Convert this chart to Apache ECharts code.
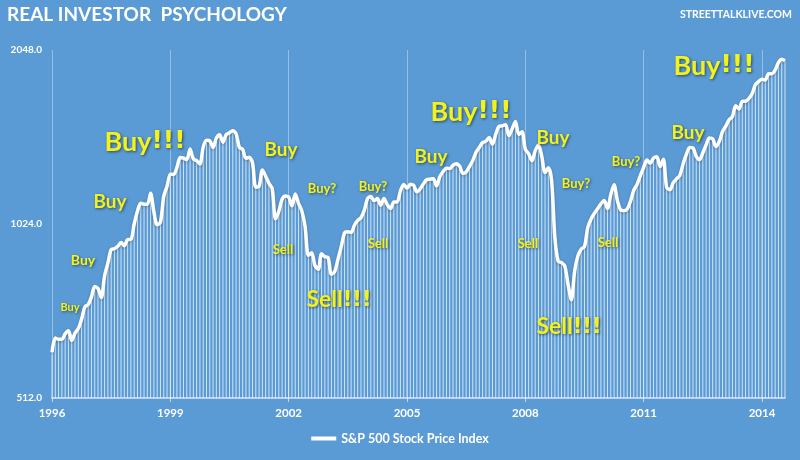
<!DOCTYPE html>
<html>
<head>
<meta charset="utf-8">
<script src="https://cdn.jsdelivr.net/npm/echarts@6/dist/echarts.min.js"></script>
<style>
html,body{margin:0;padding:0;background:#5b9bd5;}
#c{width:800px;height:460px;}
</style>
</head>
<body>
<div id="c"></div>
<script>
// Monthly S&P 500 (average price), Jan 1996 – Aug 2014
var months = [];
for (var y = 1996; y <= 2014; y++) {
  for (var m = 1; m <= 12; m++) {
    if (y === 2014 && m > 8) break;
    months.push(y + '-' + (m < 10 ? '0' + m : m));
  }
}
var sp1996 = [614,650,647,647,661,669,644,663,675,701,736,743];
var sp1997 = [766,798,792,764,833,876,925,928,937,951,939,962];
var sp1998 = [963,1024,1077,1112,1108,1108,1157,1075,1021,1032,1144,1190];
var sp1999 = [1249,1247,1282,1335,1332,1323,1381,1327,1318,1300,1391,1429];
var sp2000 = [1426,1389,1442,1461,1418,1462,1473,1485,1468,1390,1378,1331];
var sp2001 = [1336,1306,1186,1190,1270,1239,1204,1179,1045,1077,1130,1145];
var sp2002 = [1140,1101,1154,1112,1079,1014,904,913,868,855,910,899];
var sp2003 = [896,838,847,890,936,988,993,990,1019,1039,1050,1081];
var sp2004 = [1133,1143,1124,1133,1103,1133,1106,1089,1118,1118,1169,1199];
var sp2005 = [1181,1200,1195,1164,1178,1202,1222,1224,1226,1192,1237,1262];
var sp2006 = [1279,1277,1294,1302,1290,1253,1260,1287,1318,1363,1389,1416];
var sp2007 = [1424,1445,1407,1464,1511,1514,1521,1455,1497,1540,1463,1479];
var sp2008 = [1379,1355,1317,1370,1403,1341,1257,1281,1217,969,883,878];
var sp2009 = [866,805,757,848,902,926,936,1010,1045,1068,1088,1110];
var sp2010 = [1124,1089,1152,1197,1125,1083,1080,1087,1122,1172,1199,1242];
var sp2011 = [1283,1321,1304,1332,1338,1287,1325,1185,1174,1207,1226,1243];
var sp2012 = [1301,1352,1389,1386,1341,1323,1360,1403,1443,1438,1395,1422];
var sp2013 = [1480,1512,1551,1571,1640,1619,1669,1670,1687,1720,1784,1808];
var sp2014 = [1822,1817,1864,1864,1890,1947,1973,1962];
var spx = [].concat(sp1996,sp1997,sp1998,sp1999,sp2000,sp2001,sp2002,sp2003,sp2004,
  sp2005,sp2006,sp2007,sp2008,sp2009,sp2010,sp2011,sp2012,sp2013,sp2014);

var yTicks = [512, 1024, 2048];
var seriesName = 'S&P 500 Stock Price Index';

// annotation texts: [word, marks, size, x, y]
var notes = [
  ['Buy', '', 11, 70, 307],
  ['Buy', '', 14, 83, 260],
  ['Buy', '', 19, 110, 202],
  ['Buy', '!!!', 27, 145, 142],
  ['Buy', '', 19, 281, 150],
  ['Buy', '?', 13, 322, 189],
  ['Buy', '?', 13, 373, 187],
  ['Sell', '', 13, 283, 250],
  ['Sell', '!!!', 23, 339, 300],
  ['Sell', '', 13, 378, 244],
  ['Buy', '', 19, 431, 157],
  ['Buy', '!!!', 27, 471, 112],
  ['Buy', '', 19, 553, 138],
  ['Buy', '?', 13, 576, 184],
  ['Sell', '', 13, 528, 244],
  ['Sell', '!!!', 23, 569, 327],
  ['Sell', '', 13, 608, 243],
  ['Buy', '?', 13, 626, 162],
  ['Buy', '', 19, 688, 133],
  ['Buy', '!!!', 27, 714, 66]
];

var FONT = 'Lato, "Open Sans", sans-serif';
var YEL = '#f2f21c';
var graphics = [
  {type:'text', left:7, top:5, style:{text:'REAL INVESTOR  PSYCHOLOGY', fill:'#fff',
    font:'bold 19px ' + FONT, shadowColor:'rgba(0,0,0,0.6)', shadowBlur:3, shadowOffsetX:1, shadowOffsetY:1.5}},
  {type:'text', right:8, top:9, style:{text:'STREETTALKLIVE.COM', fill:'#fff',
    font:'bold 10.5px ' + FONT, shadowColor:'rgba(0,0,0,0.4)', shadowBlur:2, shadowOffsetX:1, shadowOffsetY:1}}
];
notes.forEach(function(n){
  var sh = {textShadowColor:'rgba(0,0,0,0.55)', textShadowBlur:3, textShadowOffsetX:1, textShadowOffsetY:1};
  var rich = {
    a: Object.assign({fill:YEL, fontWeight:'bold', fontSize:n[2], fontFamily:FONT}, sh),
    b: Object.assign({fill:YEL, fontWeight:'bold', fontSize:n[2] * (n[1] === '!!!' ? 0.92 : 1),
      fontFamily: n[1] === '!!!' ? '"DejaVu Sans", sans-serif' : FONT}, sh)
  };
  graphics.push({type:'text', x:n[3], y:n[4], z:100, style:{
    text: '{a|' + n[0] + '}' + (n[1] ? '{b|' + n[1] + '}' : ''),
    rich: rich, align:'center', verticalAlign:'middle'}});
});

var chart = echarts.init(document.getElementById('c'));
chart.setOption({
  backgroundColor:'#5b9bd5',
  animation:false,
  grid:{left:52, right:15, top:50, bottom:62},
  legend:{bottom:10, left:'center', itemWidth:25, itemHeight:4, icon:'rect',
    data:[{name:seriesName, icon:'rect'}],
    textStyle:{color:'#fff', fontWeight:'bold', fontSize:12.5, fontFamily:FONT}, itemGap:2},
  xAxis:{type:'category', data:months, boundaryGap:false,
    axisLine:{lineStyle:{color:'rgba(255,255,255,0.75)', width:1.5}},
    axisTick:{show:true, interval:function(i){return i%36===0;}, length:4, lineStyle:{color:'rgba(255,255,255,0.6)'}},
    axisLabel:{interval:function(i){return i%36===0;}, formatter:function(v){return v.slice(0,4);},
      color:'#fff', fontWeight:'bold', fontSize:11.5, fontFamily:FONT, margin:9},
    splitLine:{show:true, interval:function(i){return i%36===0;}, lineStyle:{color:'rgba(255,255,255,0.35)', width:1}}
  },
  yAxis:{type:'log', logBase:2, min:yTicks[0], max:yTicks[2], interval:1,
    axisLine:{show:false}, axisTick:{show:false}, splitLine:{show:false},
    axisLabel:{color:'#fff', fontWeight:'bold', fontSize:10, fontFamily:FONT, margin:10,
      formatter:function(v){return Number(v).toFixed(1);}}
  },
  series:[
    {type:'bar', data:spx, barWidth:1, silent:true, legendHoverLink:false, clip:true,
      itemStyle:{color:'rgba(255,255,255,0.72)'}, z:1},
    {name:seriesName, type:'line', data:spx, smooth:0.3, showSymbol:false, symbol:'none',
      lineStyle:{color:'#fff', width:3.5, shadowColor:'rgba(0,0,0,0.25)', shadowBlur:3, shadowOffsetY:1},
      itemStyle:{color:'#fff'}, z:3}
  ],
  graphic:graphics
});
</script>
</body>
</html>
